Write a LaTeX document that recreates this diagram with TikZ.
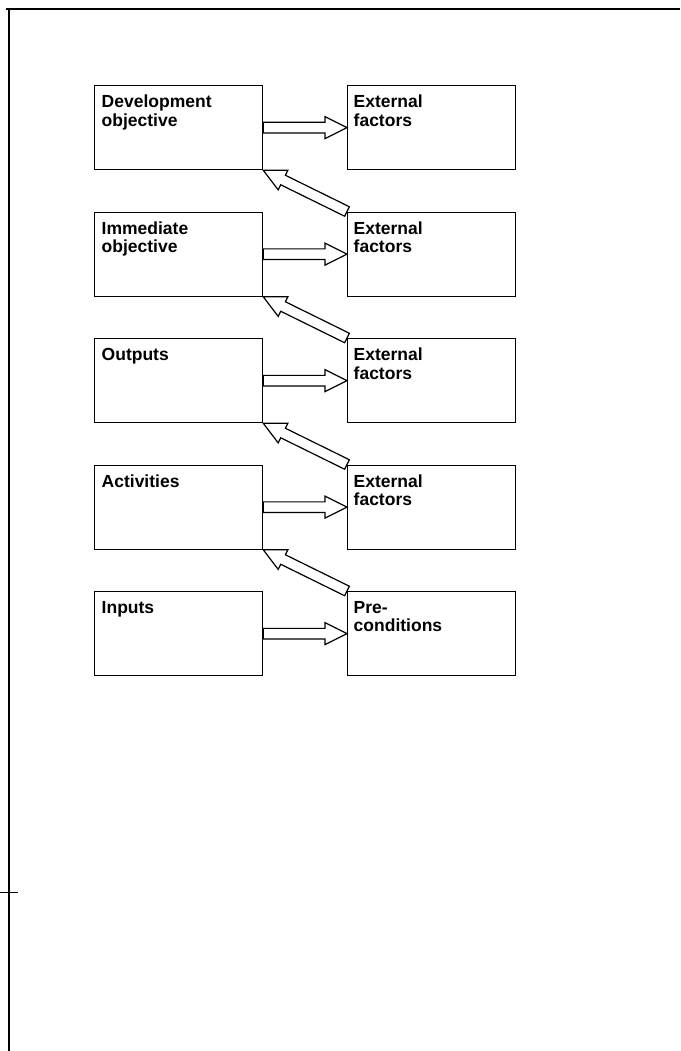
\documentclass[tikz,border=0pt]{standalone}
\usepackage{fontspec}
\setmainfont{Liberation Sans}
\usetikzlibrary{calc}

% hollow block arrow from #1 (tail) to #2 (tip)
\newcommand{\hollowarrow}[2]{%
  \coordinate (ha-n) at ($(#2)!22pt!(#1)$);
  \draw[arrowshape]
    ($(#1)!5.3pt!90:(#2)$) --
    ($(ha-n)!5.3pt!90:(#2)$) --
    ($(ha-n)!11pt!90:(#2)$) --
    (#2) --
    ($(ha-n)!11pt!-90:(#2)$) --
    ($(ha-n)!5.3pt!-90:(#2)$) --
    ($(#1)!5.3pt!-90:(#2)$) -- cycle;
}

\tikzset{
  box/.style={draw, line width=1.3pt, minimum width=168pt, minimum height=84pt,
    anchor=north west, inner sep=0pt},
  boxtext/.style={anchor=north west, inner sep=0pt, align=left,
    font=\fontsize{17.5}{18.5}\selectfont\bfseries},
  arrowshape/.style={draw, fill=white, line width=1.2pt, line join=miter},
  frame/.style={line width=2.4pt},
}

\begin{document}
\begin{tikzpicture}[x=1pt, y=-1pt]
\useasboundingbox[fill=white] (0,0) rectangle (680,1051);

% page frame (top and left edges)
\draw[frame] (6,9) -- (680,9);
\draw[frame] (9,8) -- (9,1051);
\draw[line width=1pt] (0,892) -- (18,892);

% left column
\node[box, label={[boxtext, xshift=7.5pt, yshift=-10pt]north west:Development\\objective}] (dev) at (94,85) {};
\node[box, label={[boxtext, xshift=7.5pt, yshift=-10pt]north west:Immediate\\objective}] (imm) at (94,211.5) {};
\node[box, label={[boxtext, xshift=7.5pt, yshift=-10pt]north west:Outputs}] (out) at (94,338) {};
\node[box, label={[boxtext, xshift=7.5pt, yshift=-10pt]north west:Activities}] (act) at (94,464.5) {};
\node[box, label={[boxtext, xshift=7.5pt, yshift=-10pt]north west:Inputs}] (inp) at (94,591) {};

% right column
\node[box, label={[boxtext, xshift=6.5pt, yshift=-10pt]north west:External\\factors}] (ef1) at (347,85) {};
\node[box, label={[boxtext, xshift=6.5pt, yshift=-10pt]north west:External\\factors}] (ef2) at (347,211.5) {};
\node[box, label={[boxtext, xshift=6.5pt, yshift=-10pt]north west:External\\factors}] (ef3) at (347,338) {};
\node[box, label={[boxtext, xshift=6.5pt, yshift=-10pt]north west:External\\factors}] (ef4) at (347,464.5) {};
\node[box, label={[boxtext, xshift=6.5pt, yshift=-10pt]north west:Pre-\\conditions}] (pre) at (347,591) {};

% horizontal arrows: level -> its assumptions
\hollowarrow{dev.east}{ef1.west}
\hollowarrow{imm.east}{ef2.west}
\hollowarrow{out.east}{ef3.west}
\hollowarrow{act.east}{ef4.west}
\hollowarrow{inp.east}{pre.west}

% diagonal arrows: assumptions -> next level up
\hollowarrow{ef2.north west}{dev.south east}
\hollowarrow{ef3.north west}{imm.south east}
\hollowarrow{ef4.north west}{out.south east}
\hollowarrow{pre.north west}{act.south east}
\end{tikzpicture}
\end{document}
